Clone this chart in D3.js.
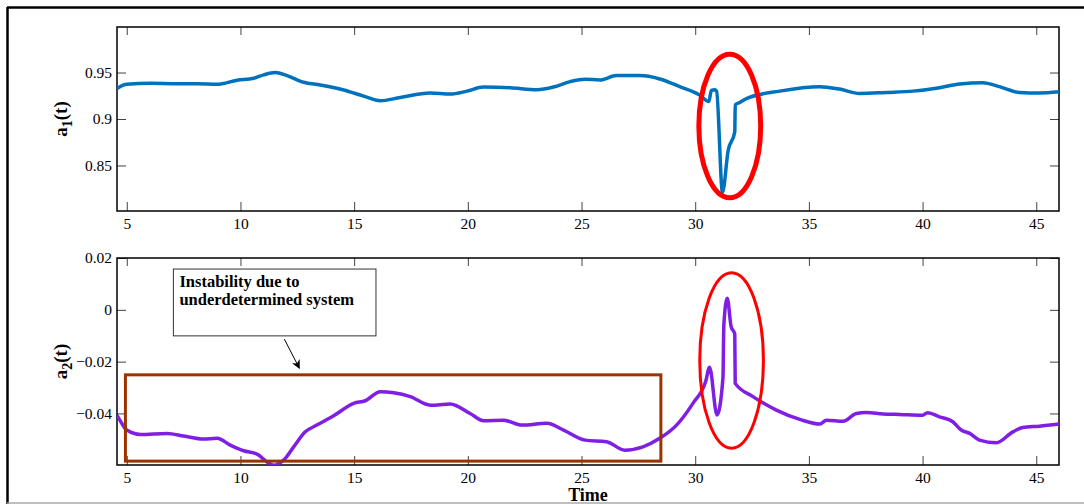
<!DOCTYPE html>
<html>
<head>
<meta charset="utf-8">
<script src="https://cdn.jsdelivr.net/npm/d3@7/dist/d3.min.js"></script>
<style>
  body { margin: 0; background: #fff; }
  svg { display: block; font-family: "Liberation Serif", "Times New Roman", serif; }
</style>
</head>
<body>
<svg id="graph"></svg>
<script>
// a1(t) series
var timeA1 = [4.57, 5.0, 6.04, 7.21, 8.09, 8.97, 9.85, 10.58, 11.02, 11.53,
  12.05, 12.78, 13.51, 14.54, 15.42, 16.15, 17.03, 18.35, 19.22, 19.96,
  20.69, 21.86, 23.04, 23.77, 24.5, 25.16, 25.8, 26.54, 27.56, 28.44,
  29.32, 30.2, 30.6, 30.71, 30.86, 30.94, 31.2, 31.45, 31.74, 31.76,
  31.96, 32.25, 33.72, 35.47, 36.35, 37.23, 38.4, 39.58, 40.75, 41.63,
  42.65, 43.38, 44.26, 45.14, 46.0];
var valueA1 = [0.9329, 0.9373, 0.9384, 0.938, 0.938, 0.9373, 0.9417, 0.9438, 0.9475, 0.950,
  0.9467, 0.9395, 0.9366, 0.9312, 0.9246, 0.9196, 0.9232, 0.928, 0.9268, 0.930,
  0.9344, 0.9337, 0.9315, 0.9344, 0.9402, 0.9428, 0.942, 0.9467, 0.9467, 0.9431,
  0.9348, 0.9257, 0.9188, 0.9308, 0.9315, 0.93, 0.821, 0.8663, 0.8862, 0.9152,
  0.9177, 0.922, 0.930, 0.9348, 0.9322, 0.9275, 0.9286, 0.930, 0.9337, 0.9377,
  0.9391, 0.9348, 0.9286, 0.928, 0.9293];

// a2(t) series
var timeA2 = [4.57, 4.65, 5.0, 5.6, 6.77, 7.5, 8.38, 8.97, 9.55, 10.14,
  10.73, 11.17, 11.46, 11.9, 12.34, 12.85, 13.36, 14.1, 14.98, 15.49,
  16.15, 16.74, 17.47, 18.35, 19.22, 20.1, 20.69, 21.57, 22.38, 23.48,
  24.21, 25.16, 26.1, 26.9, 27.7, 28.44, 29.18, 29.9, 30.46, 30.63,
  30.96, 31.22, 31.26, 31.41, 31.58, 31.74, 31.76, 32.54, 33.57, 34.6,
  35.48, 35.77, 36.5, 37.09, 37.53, 38.26, 39.0, 40.0, 40.22, 40.74,
  41.33, 41.7, 42.07, 42.5, 43.24, 43.97, 44.4, 45.14, 46.0];
var valueA2 = [-0.0408, -0.0419, -0.0464, -0.0481, -0.0477, -0.0487, -0.0499, -0.0496, -0.0522, -0.0544,
  -0.0557, -0.0587, -0.0600, -0.058, -0.0529, -0.0471, -0.0445, -0.0409, -0.0361, -0.0351,
  -0.0316, -0.032, -0.0335, -0.0368, -0.0364, -0.040, -0.0428, -0.0426, -0.0445, -0.0438,
  -0.0464, -0.0503, -0.0509, -0.0542, -0.0529, -0.0496, -0.0445, -0.0361, -0.0277, -0.0222,
  -0.0406, -0.0264, -0.0058, 0.0045, -0.0065, -0.0093, -0.0284, -0.0335, -0.0387, -0.0423,
  -0.0441, -0.0426, -0.043, -0.040, -0.0396, -0.0402, -0.0404, -0.0407, -0.0397, -0.0413,
  -0.0432, -0.0464, -0.0477, -0.0503, -0.0513, -0.0471, -0.0454, -0.0449, -0.0441];

// ticks
var xTicks = [5, 10, 15, 20, 25, 30, 35, 40, 45];
var yTicksA1 = [0.85, 0.9, 0.95];
var yTicksA2 = [-0.04, -0.02, 0, 0.02];

// annotations, in data units: [t0, t1, v0, v1]
var ellipseA1 = [30.16, 32.88, 0.8152, 0.9696];
var ellipseA2 = [30.2, 33.0, -0.0534, 0.0143];
var boxA2 = [4.94, 28.49, -0.0584, -0.0251];
var noteBox = [7.05, 15.96, -0.01006, 0.01574];
var noteArrow = [11.93, -0.01133, 12.59, -0.02255];
var noteLines = ["Instability due to", "underdetermined system"];

var width = 1084, height = 504;
var serif = "'Liberation Serif', 'Times New Roman', serif";
var svg = d3.select("#graph").attr("width", width).attr("height", height);

svg.append("defs").append("marker")
    .attr("id", "arrowhead")
    .attr("viewBox", "0 0 10 10")
    .attr("refX", 9).attr("refY", 5)
    .attr("markerWidth", 9).attr("markerHeight", 9)
    .attr("markerUnits", "userSpaceOnUse")
    .attr("orient", "auto")
  .append("path")
    .attr("d", "M0,0 L10,5 L0,10 L3,5 Z")
    .attr("fill", "#000");

// outer figure frame
svg.append("line").attr("x1", 7).attr("y1", 7.5).attr("x2", width).attr("y2", 7.5)
  .attr("stroke", "#000").attr("stroke-width", 2.5);
svg.append("line").attr("x1", 7.5).attr("y1", 7).attr("x2", 7.5).attr("y2", height)
  .attr("stroke", "#000").attr("stroke-width", 2.5);
svg.append("line").attr("x1", 7).attr("y1", 503).attr("x2", width).attr("y2", 503)
  .attr("stroke", "#aaa").attr("stroke-width", 1.5);

function fmt(d) {
  var s = d3.format("")(+d.toFixed(3));
  return s.replace("-", "\u2212");
}

function drawPanel(p) {
  var x = d3.scaleLinear().domain([4.57, 46]).range([p.left, p.right]);
  var y = d3.scaleLinear().domain(p.yDomain).range([p.bottom, p.top]);
  var g = svg.append("g");

  g.append("clipPath").attr("id", p.id + "-clip")
    .append("rect")
      .attr("x", p.left).attr("y", p.top)
      .attr("width", p.right - p.left).attr("height", p.bottom - p.top);

  // axes, ticks pointing inward
  var axes = [
    g.append("g")
      .attr("transform", "translate(0," + p.bottom + ")")
      .call(d3.axisBottom(x).tickValues(xTicks).tickSizeInner(-9).tickSizeOuter(0).tickPadding(7)),
    g.append("g")
      .attr("transform", "translate(0," + p.top + ")")
      .call(d3.axisTop(x).tickValues(xTicks).tickSizeInner(-8).tickSizeOuter(0).tickFormat("")),
    g.append("g")
      .attr("transform", "translate(" + p.left + ",0)")
      .call(d3.axisLeft(y).tickValues(p.yTicks).tickSizeInner(-9).tickSizeOuter(0).tickPadding(5).tickFormat(fmt)),
    g.append("g")
      .attr("transform", "translate(" + p.right + ",0)")
      .call(d3.axisRight(y).tickValues(p.yTicks).tickSizeInner(-9).tickSizeOuter(0).tickFormat(""))
  ];
  axes.forEach(function (a) {
    a.attr("font-family", serif).attr("font-size", 15.5);
  });

  g.selectAll(".domain").remove();
  g.selectAll(".tick line").attr("stroke", "#444");
  g.selectAll(".tick text").attr("fill", "#000");

  g.append("rect")
    .attr("x", p.left).attr("y", p.top)
    .attr("width", p.right - p.left).attr("height", p.bottom - p.top)
    .attr("fill", "none").attr("stroke", "#000").attr("stroke-width", 1.5);

  // the series
  var line = d3.line()
    .x(function (d, i) { return x(p.time[i]); })
    .y(function (d) { return y(d); })
    .curve(d3.curveMonotoneX);
  g.append("path")
    .datum(p.values)
    .attr("clip-path", "url(#" + p.id + "-clip)")
    .attr("d", line)
    .attr("fill", "none")
    .attr("stroke", p.color)
    .attr("stroke-width", 3.5)
    .attr("stroke-linejoin", "round");

  // y label with subscript
  var cx = p.left - 50, cy = (p.top + p.bottom) / 2;
  var lab = g.append("text")
    .attr("transform", "translate(" + cx + "," + cy + ") rotate(-90)")
    .attr("text-anchor", "middle")
    .attr("font-family", serif)
    .style("font-size", "19px")
    .style("font-weight", "bold");
  lab.append("tspan").text("a");
  lab.append("tspan").attr("dy", 5).style("font-size", "14px").text(p.sub);
  lab.append("tspan").attr("dy", -5).text("(t)");

  // red ellipse
  var e = p.ellipse;
  g.append("ellipse")
    .attr("cx", (x(e[0]) + x(e[1])) / 2)
    .attr("cy", (y(e[2]) + y(e[3])) / 2)
    .attr("rx", (x(e[1]) - x(e[0])) / 2)
    .attr("ry", (y(e[2]) - y(e[3])) / 2)
    .attr("fill", "none")
    .attr("stroke", "#ff0000")
    .attr("stroke-width", p.ellipseWidth);

  return {x: x, y: y, g: g};
}

var top1 = drawPanel({
  id: "a1", left: 117, right: 1059, top: 27, bottom: 211,
  yDomain: [0.801, 0.999], yTicks: yTicksA1,
  time: timeA1, values: valueA1, color: "#0072bd", sub: "1",
  ellipse: ellipseA1, ellipseWidth: 5
});

var bot = drawPanel({
  id: "a2", left: 117, right: 1059, top: 258, bottom: 465,
  yDomain: [-0.0599, 0.02], yTicks: yTicksA2,
  time: timeA2, values: valueA2, color: "#7f1fe3", sub: "2",
  ellipse: ellipseA2, ellipseWidth: 3
});

// brown box around the unstable stretch
bot.g.append("rect")
  .attr("x", bot.x(boxA2[0])).attr("y", bot.y(boxA2[3]))
  .attr("width", bot.x(boxA2[1]) - bot.x(boxA2[0]))
  .attr("height", bot.y(boxA2[2]) - bot.y(boxA2[3]))
  .attr("fill", "none")
  .attr("stroke", "#993300")
  .attr("stroke-width", 3);

// text note and arrow
bot.g.append("rect")
  .attr("x", bot.x(noteBox[0])).attr("y", bot.y(noteBox[3]))
  .attr("width", bot.x(noteBox[1]) - bot.x(noteBox[0]))
  .attr("height", bot.y(noteBox[2]) - bot.y(noteBox[3]))
  .attr("fill", "#fff")
  .attr("stroke", "#333")
  .attr("stroke-width", 1);

bot.g.append("g")
  .selectAll("text").data(noteLines).enter().append("text")
    .attr("x", bot.x(noteBox[0]) + 6)
    .attr("y", (d, i) => bot.y(noteBox[3]) + 17.5 + i * 18.5)
    .attr("font-family", serif)
    .style("font-size", "16.5px")
    .style("font-weight", "bold")
    .text(d => d);

bot.g.append("line")
  .attr("x1", bot.x(noteArrow[0])).attr("y1", bot.y(noteArrow[1]))
  .attr("x2", bot.x(noteArrow[2])).attr("y2", bot.y(noteArrow[3]))
  .attr("stroke", "#000")
  .attr("stroke-width", 1)
  .attr("marker-end", "url(#arrowhead)");

// x label
svg.append("text")
  .attr("x", 588)
  .attr("y", 501)
  .attr("text-anchor", "middle")
  .attr("font-family", serif)
  .style("font-size", "18px")
  .style("font-weight", "bold")
  .text("Time");
</script>
</body>
</html>
